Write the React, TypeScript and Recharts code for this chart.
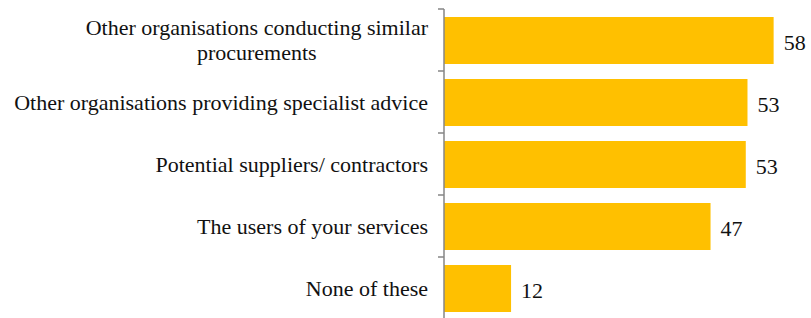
import { BarChart, Bar, XAxis, YAxis, LabelList } from 'recharts'

const categories = [
  'Other organisations conducting similar\nprocurements',
  'Other organisations providing specialist advice',
  'Potential suppliers/ contractors',
  'The users of your services',
  'None of these',
]
const shares = [58, 53.4, 53.1, 46.9, 11.8]

const data = categories.map((name, i) => ({ name, value: shares[i] }))

const FONT = '"Liberation Serif", "Times New Roman", serif'
const FONT_SIZE = 22
const TICK_SIZE = 6
const TICK_MARGIN = 10
const BAND = 62

let ctx: CanvasRenderingContext2D | null = null
function textWidth(s: string) {
  if (!ctx) ctx = document.createElement('canvas').getContext('2d')
  if (!ctx) return s.length * 9
  ctx.font = `${FONT_SIZE}px ${FONT}`
  return ctx.measureText(s).width
}

function CategoryTick(props: any) {
  const { x, y, payload } = props
  const lines: string[] = String(payload.value).split('\n')
  const w = Math.max(...lines.map(textWidth))
  const axisX = x + TICK_SIZE + TICK_MARGIN
  const lh = 25
  return (
    <g>
      <line x1={axisX - TICK_SIZE} x2={axisX} y1={y - BAND / 2} y2={y - BAND / 2} stroke="#868686" strokeWidth={1.5} />
      {lines.map((l, i) => (
        <text
          key={i}
          x={lines.length > 1 ? x - w / 2 : x}
          y={y + (i - (lines.length - 1) / 2) * lh}
          dy="0.35em"
          textAnchor={lines.length > 1 ? 'middle' : 'end'}
          fontFamily={FONT}
          fontSize={FONT_SIZE}
          fill="#111"
        >
          {l}
        </text>
      ))}
    </g>
  )
}

export default function App() {
  return (
    <div>
      <style>{'body{margin:0}'}</style>
      <BarChart
        width={811}
        height={320}
        data={data}
        layout="vertical"
        margin={{ top: 9, right: 26, left: 0, bottom: 1 }}
      >
        <XAxis type="number" domain={[0, 60]} hide />
        <YAxis
          type="category"
          dataKey="name"
          width={444}
          axisLine={{ stroke: '#868686', strokeWidth: 1.5 }}
          tickLine={false}
          tickSize={TICK_SIZE}
          tickMargin={TICK_MARGIN}
          tick={<CategoryTick />}
          interval={0}
        />
        <Bar dataKey="value" fill="#FFC000" barSize={47} isAnimationActive={false}>
          <LabelList
            dataKey="value"
            position="right"
            offset={10}
            dy={2}
            formatter={(v: any) => Math.round(Number(v))}
            style={{ fontFamily: FONT, fontSize: FONT_SIZE, fill: '#111' }}
          />
        </Bar>
      </BarChart>
    </div>
  )
}
